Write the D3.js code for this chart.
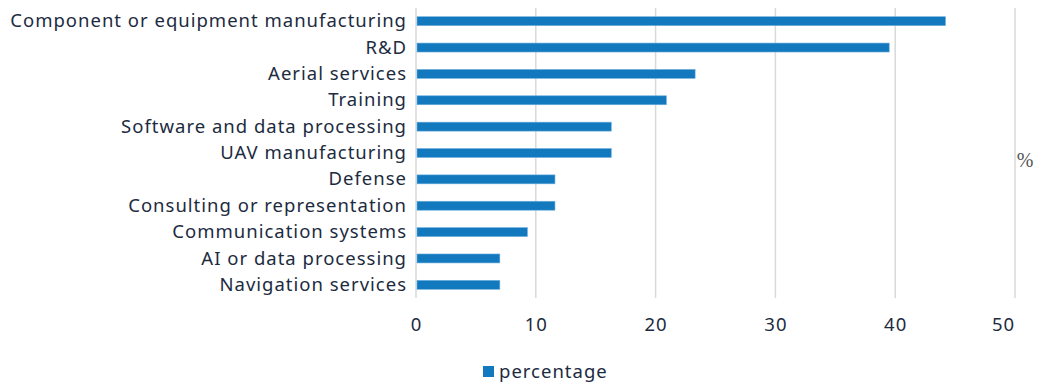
<!DOCTYPE html>
<html>
<head>
<meta charset="utf-8">
<script src="https://cdn.jsdelivr.net/npm/d3@7"></script>
<style>
  html, body { margin: 0; padding: 0; background: #fff; }
  svg { display: block; }
</style>
</head>
<body>
<div id="chart"></div>
<script>
// Share of companies by field of activity
const categories = [
  "Component or equipment manufacturing",
  "R&D",
  "Aerial services",
  "Training",
  "Software and data processing",
  "UAV manufacturing",
  "Defense",
  "Consulting or representation",
  "Communication systems",
  "AI or data processing",
  "Navigation services"
];
const percentage = [44.2, 39.5, 23.3, 20.9, 16.3, 16.3, 11.6, 11.6, 9.3, 7.0, 7.0];
const xTicks = [0, 10, 20, 30, 40, 50];
const seriesName = "percentage";
const unitLabel = "%";

const W = 1039, H = 386;
const margin = { top: 8, right: 24, bottom: 88, left: 416 };
const barColor = "#1279be";
const textColor = "#1d2b3f";
const font = "'Noto Sans', 'Open Sans', sans-serif";
const fontSize = "18.5px";
const tracking = "1px";

const svg = d3.select("#chart").append("svg")
  .attr("width", W).attr("height", H);

const x = d3.scaleLinear().domain([0, 50]).range([margin.left, 1015]);
const y = d3.scaleBand().domain(categories)
  .range([margin.top, H - margin.bottom])
  .paddingInner(0.66).paddingOuter(0.33);

// vertical gridlines
svg.append("g").selectAll("line").data(xTicks).join("line")
  .attr("x1", d => x(d)).attr("x2", d => x(d))
  .attr("y1", margin.top).attr("y2", H - margin.bottom)
  .attr("stroke", "#d9d9d9").attr("stroke-width", 1.5);

// bars
svg.append("g").selectAll("rect").data(categories).join("rect")
  .attr("x", x(0) + 1)
  .attr("y", d => y(d))
  .attr("width", (d, i) => x(percentage[i]) - x(0) - 1)
  .attr("height", y.bandwidth())
  .attr("fill", barColor)
  .attr("stroke", "#6fb0de").attr("stroke-width", 0.6);

// category axis
const yAxis = svg.append("g")
  .attr("transform", `translate(${x(0) - 9},0)`)
  .call(d3.axisLeft(y).tickSize(0).tickPadding(0));
yAxis.select(".domain").remove();
yAxis.selectAll("text")
  .attr("fill", textColor)
  .style("font-family", font).style("font-size", fontSize)
  .style("letter-spacing", tracking)
  .attr("dy", "0.33em");

// value axis
const xAxis = svg.append("g")
  .attr("transform", `translate(0,${H - margin.bottom})`)
  .call(d3.axisBottom(x).tickValues(xTicks).tickSize(0).tickPadding(20));
xAxis.select(".domain").remove();
xAxis.selectAll("text")
  .attr("fill", textColor)
  .style("font-family", font).style("font-size", fontSize)
  .style("letter-spacing", tracking)
  .attr("dx", d => d === 50 ? -12 : 0);

// unit label
svg.append("text")
  .attr("x", x(50) + 10).attr("y", 160)
  .attr("dy", "0.35em").attr("text-anchor", "middle")
  .attr("fill", "#555")
  .style("font-family", "'Liberation Serif', 'DejaVu Serif', serif")
  .style("font-size", "20px")
  .text(unitLabel);

// legend
const lg = svg.append("g").attr("transform", "translate(483,372)");
lg.append("rect").attr("x", 0).attr("y", -6).attr("width", 11).attr("height", 11)
  .attr("fill", barColor);
lg.append("text").attr("x", 16).attr("y", 0).attr("dy", "0.33em")
  .attr("fill", textColor)
  .style("font-family", font).style("font-size", fontSize)
  .style("letter-spacing", tracking)
  .text(seriesName);
</script>
</body>
</html>
